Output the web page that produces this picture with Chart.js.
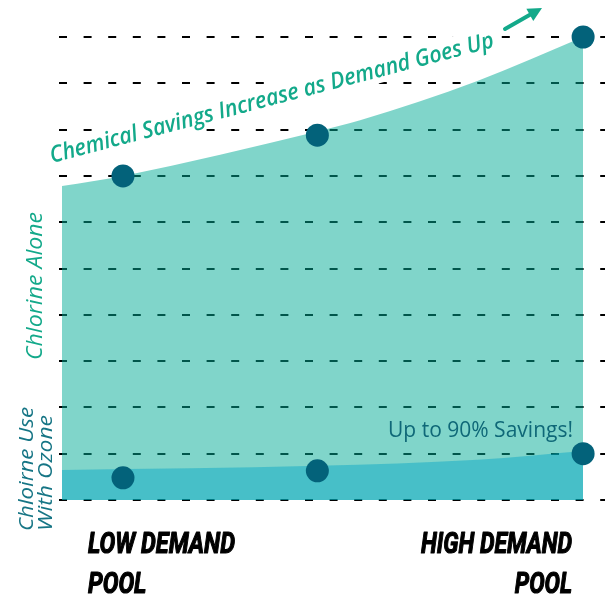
<!DOCTYPE html>
<html>
<head>
<meta charset="utf-8">
<script src="https://cdn.jsdelivr.net/npm/chart.js@4"></script>
<style>
    html, body { margin: 0; padding: 0; background: #fff; }
    #wrap { position: relative; width: 608px; height: 599px; }
</style>
</head>
<body>
<div id="wrap"><canvas id="savingsChart"></canvas></div>
<script>
// pool demand runs left (low) to right (high), 0..10 on the x scale
const curveX = [0, 1.17, 4.9, 5.72, 7.97, 10];
const chlorineAloneCurve = [6.78, 7.0, 7.96, 8.2, 9.05, 10.0];
const ozoneCurveX = [0, 4.9, 7.97, 10];
const ozoneCurve = [0.65, 0.74, 0.87, 1.06];
const poolX = [1.17, 4.9, 10];
const chlorineAlonePoints = [7.0, 7.88, 10.0];
const ozonePoints = [0.48, 0.63, 1.0];
const yTicks = [0, 10, 1]; // min, max, step

const xLabels = [['LOW DEMAND', 'POOL'], ['HIGH DEMAND', 'POOL']];
const titleText = 'Chemical Savings Increase as Demand Goes Up';
const aloneLabel = 'Chlorine Alone';
const ozoneLabel = ['Chloirne Use', 'With Ozone'];
const savingsNote = 'Up to 90% Savings!';

const green = '#13a98a';
const darkTeal = '#0f6878';
const dotColor = '#03627a';

const titleAngle = -14.7 * Math.PI / 180;
const titleWidth = 458;

const toXY = (xs, ys) => xs.map((x, i) => ({ x: x, y: ys[i] }));

// draws text squeezed/stretched so it fills a given width
function fitText(ctx, text, x, y, width, font, align) {
    ctx.font = font;
    const w = ctx.measureText(text).width;
    ctx.save();
    ctx.translate(x, y);
    ctx.scale(width / w, 1);
    ctx.textAlign = align || 'left';
    ctx.fillText(text, 0, 0);
    ctx.restore();
}

const annotations = {
    id: 'annotations',
    beforeDatasetsDraw(chart) {
        // white band so the headline sits on a clean strip of the grid
        const ctx = chart.ctx;
        ctx.save();
        ctx.translate(52, 163);
        ctx.rotate(titleAngle);
        ctx.fillStyle = '#fff';
        ctx.fillRect(-4, -21, titleWidth + 8, 27);
        ctx.restore();
    },
    afterDraw(chart) {
        const ctx = chart.ctx;
        ctx.save();
        ctx.textBaseline = 'alphabetic';

        // slanted headline
        ctx.fillStyle = green;
        ctx.save();
        ctx.translate(52, 163);
        ctx.rotate(titleAngle);
        fitText(ctx, titleText, 0, 0, titleWidth, 'italic 600 23px "Open Sans"');
        ctx.restore();

        // arrow
        ctx.strokeStyle = green;
        ctx.lineWidth = 4;
        ctx.lineCap = 'round';
        ctx.beginPath();
        ctx.moveTo(505, 29);
        ctx.lineTo(533, 13);
        ctx.stroke();
        ctx.save();
        ctx.translate(542, 8);
        ctx.rotate(Math.atan2(-21, 37));
        ctx.beginPath();
        ctx.moveTo(0, 0);
        ctx.lineTo(-14, -7);
        ctx.lineTo(-14, 7);
        ctx.closePath();
        ctx.fill();
        ctx.restore();

        // side labels
        ctx.save();
        ctx.translate(42, 360);
        ctx.rotate(-Math.PI / 2);
        fitText(ctx, aloneLabel, 0, 0, 148, 'italic 500 21px "Open Sans"');
        ctx.restore();

        ctx.fillStyle = '#167585';
        ctx.save();
        ctx.translate(33, 531);
        ctx.rotate(-Math.PI / 2);
        fitText(ctx, ozoneLabel[0], 0, 0, 124, 'italic 500 20px "Open Sans"');
        fitText(ctx, ozoneLabel[1], 0, 19, 116, 'italic 500 20px "Open Sans"');
        ctx.restore();

        ctx.fillStyle = darkTeal;
        fitText(ctx, savingsNote, 388, 437, 185, '500 21px "Open Sans"');

        // x labels
        ctx.fillStyle = '#000';
        ctx.strokeStyle = '#000';
        ctx.lineWidth = 1.2;
        ctx.lineJoin = 'round';
        ctx.font = 'italic bold 30px Roboto';
        const sxL = 147 / ctx.measureText(xLabels[0][0]).width;
        const sxR = 151 / ctx.measureText(xLabels[1][0]).width;
        [[xLabels[0], 88, sxL, 'left'], [xLabels[1], 572, sxR, 'right']].forEach(([lines, x, sx, align]) => {
            lines.forEach((line, i) => {
                ctx.save();
                ctx.translate(x, 553 + i * 40);
                ctx.scale(sx, 1);
                ctx.textAlign = align;
                ctx.fillText(line, 0, 0);
                ctx.strokeText(line, 0, 0);
                ctx.restore();
            });
        });
        ctx.restore();
    }
};

new Chart(document.getElementById('savingsChart'), {
    type: 'line',
    data: {
        datasets: [
            {
                data: toXY(poolX, chlorineAlonePoints),
                showLine: false,
                pointRadius: 11.5,
                pointBackgroundColor: dotColor,
                pointBorderWidth: 0,
                clip: false
            },
            {
                data: toXY(poolX, ozonePoints),
                showLine: false,
                pointRadius: 11.5,
                pointBackgroundColor: dotColor,
                pointBorderWidth: 0,
                clip: false
            },
            {
                data: toXY(ozoneCurveX, ozoneCurve),
                borderWidth: 0,
                pointRadius: 0,
                cubicInterpolationMode: 'monotone',
                fill: 'origin',
                backgroundColor: 'rgba(1,163,197,0.44)'
            },
            {
                data: toXY(curveX, chlorineAloneCurve),
                borderWidth: 0,
                pointRadius: 0,
                cubicInterpolationMode: 'monotone',
                fill: 'origin',
                backgroundColor: 'rgba(1,171,149,0.5)'
            }
        ]
    },
    options: {
        responsive: true,
        maintainAspectRatio: false,
        animation: false,
        layout: { autoPadding: false, padding: { left: 59, right: 3, top: 37, bottom: 99 } },
        plugins: { legend: { display: false }, tooltip: { enabled: false } },
        scales: {
            x: { type: 'linear', min: -0.058, max: 10.42, display: false },
            y: {
                min: yTicks[0],
                max: yTicks[1],
                ticks: { display: false, stepSize: yTicks[2] },
                border: { display: false, dash: [8, 16.6] },
                grid: { color: '#000', lineWidth: 2, drawTicks: false }
            }
        }
    },
    plugins: [annotations]
});
</script>
</body>
</html>
